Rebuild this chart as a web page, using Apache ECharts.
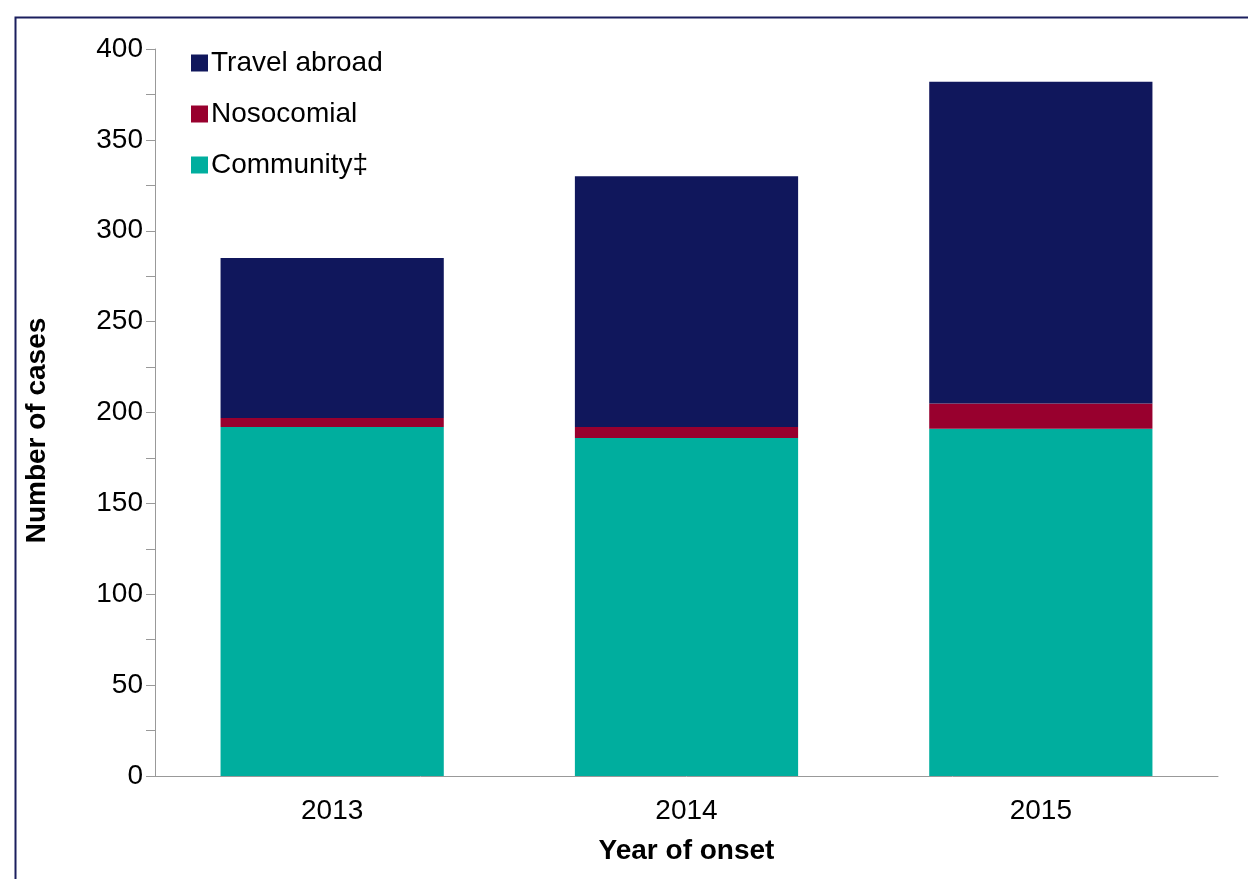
<!DOCTYPE html>
<html>
<head>
<meta charset="utf-8">
<script src="https://cdn.jsdelivr.net/npm/echarts@6/dist/echarts.min.js"></script>
<style>
  html, body { margin: 0; padding: 0; background: #fff; }
  #main { width: 1248px; height: 879px; }
</style>
</head>
<body>
<div id="main"></div>
<script>
var years = ['2013', '2014', '2015'];
var community = [192, 186, 191];
var nosocomial = [5, 6, 14];
var travelAbroad = [88, 138, 177];
var yTicks = [0, 50, 100, 150, 200, 250, 300, 350, 400];

var myChart = echarts.init(document.getElementById('main'));
var font = '"Liberation Sans", Arial, sans-serif';

var option = {
  animation: false,
  textStyle: { fontFamily: font },
  graphic: [{
    type: 'rect',
    left: 13, top: 15,
    shape: { width: 1300, height: 900 },
    style: { fill: 'none', stroke: '#1b1f5e', lineWidth: 2 },
    silent: true
  }],
  grid: { left: 155, right: 30, top: 49, bottom: 103 },
  legend: {
    orient: 'vertical',
    left: 186, top: 42,
    itemWidth: 17, itemHeight: 17,
    itemGap: 19,
    icon: 'rect',
    data: ['Travel abroad', 'Nosocomial', 'Community‡'],
    textStyle: { fontSize: 28, color: '#000', lineHeight: 32, padding: [0, 0, 0, -2], fontFamily: font }
  },
  xAxis: {
    type: 'category',
    data: years,
    name: 'Year of onset',
    nameLocation: 'middle',
    nameGap: 61,
    nameTextStyle: { fontSize: 28, fontWeight: 'bold', color: '#000', fontFamily: font },
    axisLine: { lineStyle: { color: '#999', width: 1 } },
    axisTick: { length: 10, lineStyle: { color: '#999' } },
    axisLabel: { fontSize: 28, color: '#000', margin: 21, fontFamily: font }
  },
  yAxis: {
    type: 'value',
    min: yTicks[0], max: yTicks[yTicks.length - 1], interval: 50,
    name: 'Number of cases',
    nameLocation: 'middle',
    nameGap: 104,
    nameRotate: 90,
    nameTextStyle: { fontSize: 28, fontWeight: 'bold', color: '#000', padding: [0, 36, 0, 0], fontFamily: font },
    axisLine: { show: true, lineStyle: { color: '#999', width: 1 } },
    axisTick: { show: true, length: 9, lineStyle: { color: '#999' } },
    minorTick: { show: true, splitNumber: 2, length: 9, lineStyle: { color: '#999' } },
    splitLine: { show: false },
    axisLabel: { fontSize: 28, color: '#000', margin: 12, fontFamily: font }
  },
  series: [
    {
      name: 'Community‡', type: 'bar', stack: 'total', data: community,
      barWidth: '63%', itemStyle: { color: '#00AE9E' }
    },
    {
      name: 'Nosocomial', type: 'bar', stack: 'total', data: nosocomial,
      itemStyle: { color: '#98002E' }
    },
    {
      name: 'Travel abroad', type: 'bar', stack: 'total', data: travelAbroad,
      itemStyle: { color: '#10175C' }
    }
  ]
};

myChart.setOption(option);
</script>
</body>
</html>
